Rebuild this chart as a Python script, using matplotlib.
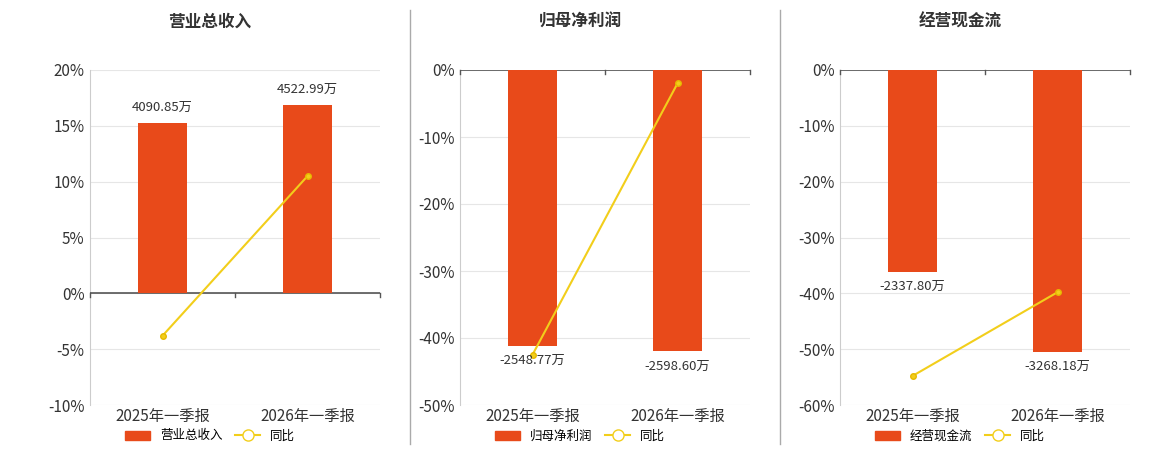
import matplotlib.pyplot as plt
from matplotlib.lines import Line2D
from matplotlib.patches import Patch

plt.rcParams['font.family'] = ['Noto Sans CJK SC', 'DejaVu Sans']

periods = ['2025年一季报', '2026年一季报']
titles = ['营业总收入', '归母净利润', '经营现金流']
amounts = [[4090.85, 4522.99], [-2548.77, -2598.60], [-2337.80, -3268.18]]
labels = [['4090.85万', '4522.99万'], ['-2548.77万', '-2598.60万'], ['-2337.80万', '-3268.18万']]
yoy = [[-3.8, 10.5], [-42.5, -2.0], [-54.8, -39.8]]
ylims = [(-10, 20), (-50, 0), (-60, 0)]
# height (in % axis units) of the largest bar in each panel
ref_h = [16.9, -42.0, -50.5]

bar_c = '#E84A1A'
line_c = '#F2CE1B'

fig = plt.figure(figsize=(11.6, 4.5), dpi=100)
lefts = [90, 460, 840]
for i in range(3):
    ax = fig.add_axes([lefts[i] / 1160, 45 / 450, 290 / 1160, 335 / 450])
    lo, hi = ylims[i]
    ax.set_ylim(lo, hi)
    ax.set_xlim(-0.5, 1.5)
    ax.set_yticks(range(lo, hi + 1, 10 if i else 5))
    ax.set_yticklabels([f'{t}%' for t in ax.get_yticks().astype(int)], fontsize=11, color='#333333')
    ax.grid(axis='y', color='#e6e6e6', lw=0.8)
    ax.set_axisbelow(True)
    for s in ['top', 'right', 'bottom']:
        ax.spines[s].set_visible(False)
    ax.spines['left'].set_color('#cccccc')
    ax.tick_params(axis='y', length=0, pad=4)
    ax.tick_params(axis='x', length=0, labelsize=11, colors='#333333', pad=2)
    ax.set_xticks([0, 1])
    ax.set_xticklabels(periods)
    ax.axhline(0, color='#555555', lw=1.2, zorder=3)
    for xt in [-0.5, 0.5, 1.5]:
        ax.plot([xt, xt], [0, -0.012 * (hi - lo)], color='#555555', lw=1, zorder=3, clip_on=False)

    bx = ax.twinx()
    m = max(amounts[i], key=abs)
    k = m / ref_h[i]
    bx.set_ylim(lo * k, hi * k)
    bx.axis('off')
    bx.bar([0, 1], amounts[i], width=0.34, color=bar_c, zorder=2)
    for j, v in enumerate(amounts[i]):
        off = 0.025 * (hi - lo) * k * (1 if v > 0 else -1)
        bx.text(j, v + off, labels[i][j], ha='center', va='bottom' if v > 0 else 'top',
                fontsize=9.5, color='#333333', zorder=5)
    bx.plot([0.0, 1.0], [y * k for y in yoy[i]], color=line_c, lw=1.5, marker='o', ms=4,
            mfc=line_c, mec='#e6b800', zorder=4)

    fig.text((lefts[i] + 120) / 1160, 1 - 22 / 450, titles[i], ha='center', va='center',
             fontsize=12, fontweight='bold', color='#333333')
    handles = [Patch(color=bar_c), Line2D([], [], color=line_c, marker='o', ms=8, mfc='white', lw=1.5)]
    fig.legend(handles, [titles[i], '同比'], loc='center', ncol=2, frameon=False, fontsize=9,
               bbox_to_anchor=((lefts[i] + 120) / 1160, 14 / 450), handlelength=2, columnspacing=1)

for x in [410, 780]:
    fig.add_artist(Line2D([x / 1160] * 2, [6 / 450, 440 / 450], color='#aaaaaa', lw=1))

fig.savefig('out.png', dpi=100)
